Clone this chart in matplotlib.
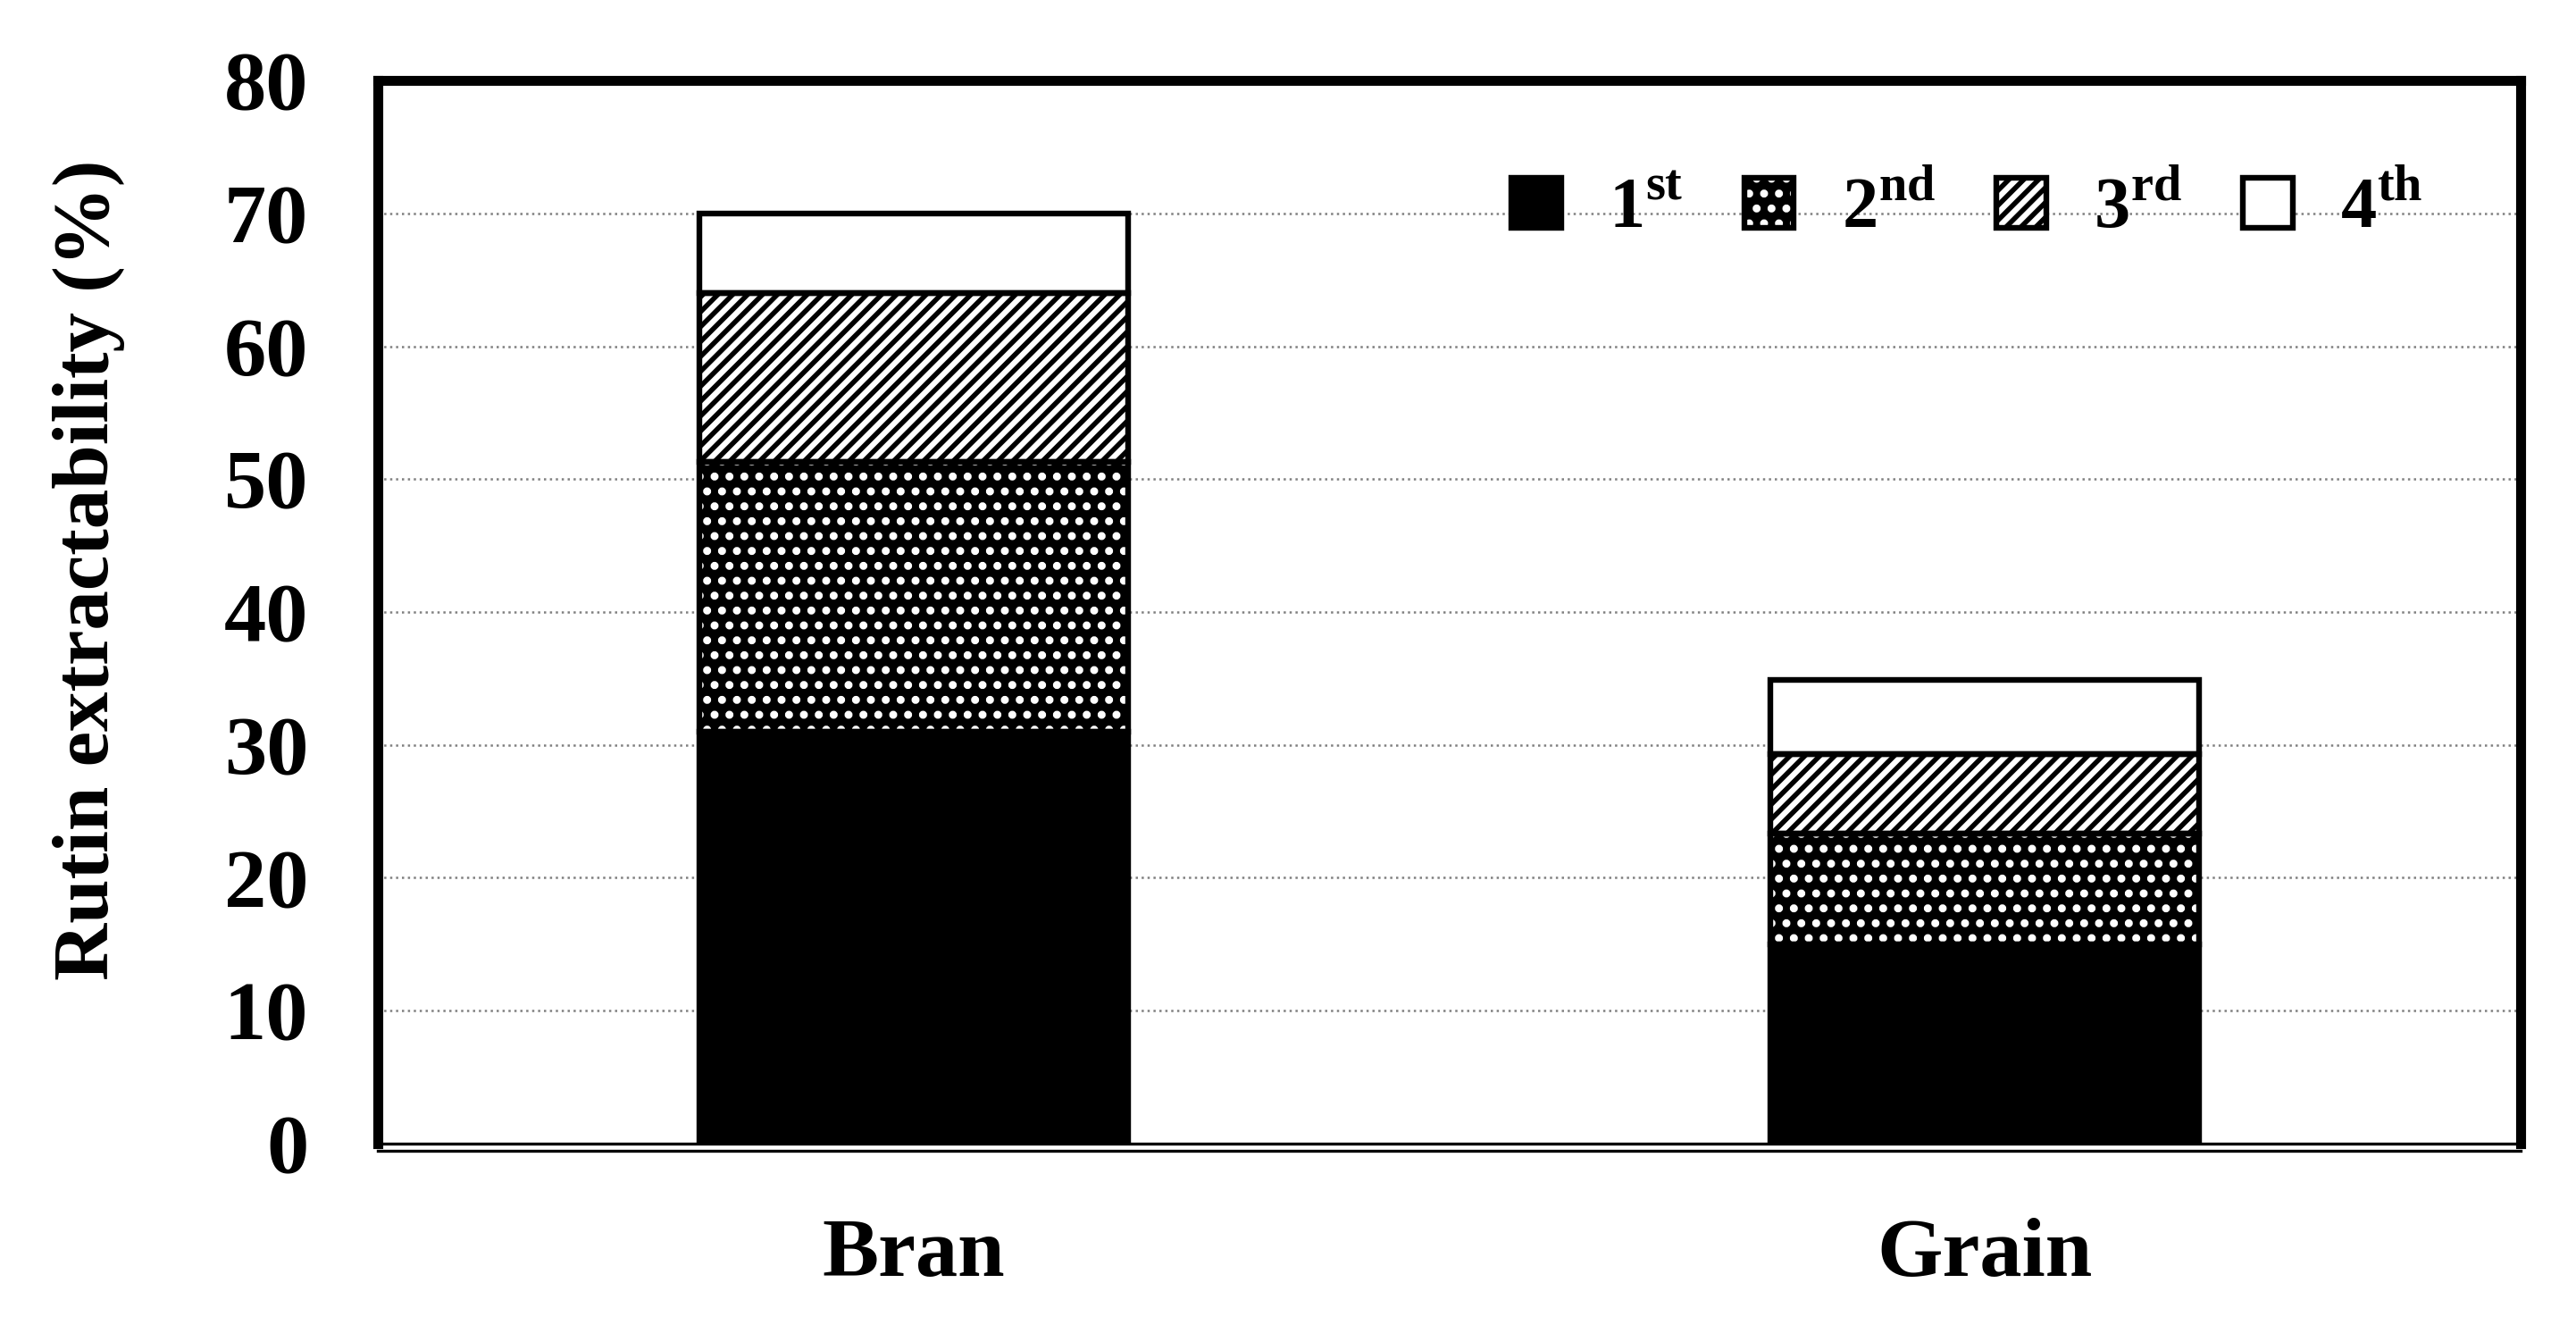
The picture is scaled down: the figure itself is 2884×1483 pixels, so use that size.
import numpy as np
import matplotlib
matplotlib.use('Agg')
import matplotlib.pyplot as plt
from matplotlib.transforms import ScaledTranslation
from matplotlib.legend_handler import HandlerTuple

plt.rcParams['font.family'] = ['Liberation Serif', 'DejaVu Serif']
plt.rcParams['font.weight'] = 'bold'
plt.rcParams['mathtext.fontset'] = 'custom'
plt.rcParams['mathtext.rm'] = 'Liberation Serif:bold'
plt.rcParams['mathtext.bf'] = 'Liberation Serif:bold'
plt.rcParams['hatch.linewidth'] = 2.0

# data
samples = ['Bran', 'Grain']
first = [31.0, 15.0]
second = [20.3, 8.3]
third = [12.7, 6.0]
fourth = [6.0, 5.6]
layers = [first, second, third, fourth]
labels = ['1$^{\\mathbf{st}}$', '2$^{\\mathbf{nd}}$', '3$^{\\mathbf{rd}}$', '4$^{\\mathbf{th}}$']
yticks = [0, 10, 20, 30, 40, 50, 60, 70, 80]

# fill / hatch style per layer
faces = ['black', 'black', 'white', 'white']
hatch_cols = ['black', 'white', 'black', 'white']
hatches = [None, '..', '////', None]

fig = plt.figure(figsize=(14.42, 7.415), dpi=200)
ax = fig.add_axes([0.1467, 0.1369, 0.8318, 0.8024])

x = np.arange(len(samples))
bottom = np.zeros(len(samples))
handles = []
for i in range(len(layers)):
    vals = np.array(layers[i])
    fill = ax.bar(x, vals, 0.4, bottom=bottom, color=faces[i], edgecolor=hatch_cols[i],
                  hatch=hatches[i], linewidth=0, zorder=2)
    edge = ax.bar(x, vals, 0.4, bottom=bottom, fill=False, edgecolor='black',
                  linewidth=2.3, zorder=3)
    handles.append((fill, edge))
    bottom = bottom + vals

ax.set_xlim(-0.5, 1.5)
ax.set_ylim(0, 80)
ax.set_yticks(yticks)
ax.set_xticks(x)
ax.set_xticklabels(samples, fontsize=34, fontweight='bold')
ax.tick_params(axis='y', length=0, pad=28, labelsize=34)
ax.tick_params(axis='x', length=0, pad=30)
ax.yaxis.grid(True, linestyle=':', color='gray', linewidth=0.9)
ax.set_axisbelow(True)

for s in ['left', 'top', 'right']:
    ax.spines[s].set_linewidth(4)
ax.spines['bottom'].set_linewidth(1.2)
# second thin line under the x axis
off = ScaledTranslation(0, -7.7 / 200, fig.dpi_scale_trans)
ax.plot([0, 1], [0, 0], color='black', linewidth=1.2, transform=ax.transAxes + off,
        clip_on=False)

ax.set_ylabel('Rutin extractability (%)', fontsize=32, fontweight='bold')
ax.yaxis.set_label_coords(-0.118, 0.54)

ax.legend(handles, labels, loc='center left', bbox_to_anchor=(0.529, 0.879), ncol=4,
          frameon=False, fontsize=29, handlelength=0.69, handleheight=0.69,
          handletextpad=0.66, columnspacing=0.85, borderpad=0, borderaxespad=0,
          handler_map={tuple: HandlerTuple(ndivide=1)})

fig.savefig('out.png', dpi=200)
